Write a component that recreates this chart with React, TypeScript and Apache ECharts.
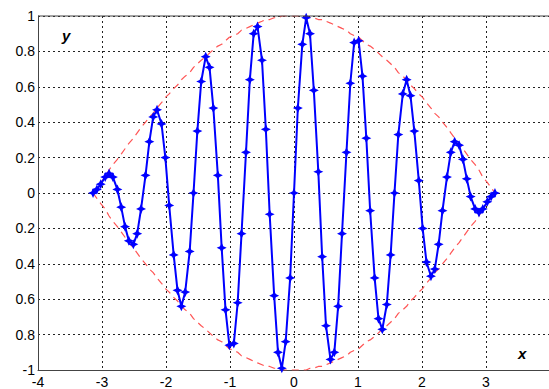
import React, { useEffect, useRef } from "react";
import * as echarts from "echarts";

// Sample positions along x (from -pi to pi)
const xs = [
  -3.14, -3.08, -3.02, -2.95, -2.89, -2.83, -2.76, -2.70, -2.64, -2.58,
  -2.51, -2.45, -2.39, -2.32, -2.26, -2.20, -2.14, -2.07, -2.01, -1.95,
  -1.88, -1.82, -1.76, -1.70, -1.63, -1.57, -1.51, -1.45, -1.38, -1.32,
  -1.26, -1.19, -1.13, -1.07, -1.01, -0.94, -0.88, -0.82, -0.75, -0.69,
  -0.63, -0.57, -0.50, -0.44, -0.38, -0.31, -0.25, -0.19, -0.13, -0.06,
  0,
  0.06, 0.13, 0.19, 0.25, 0.31, 0.38, 0.44, 0.50, 0.57, 0.63,
  0.69, 0.75, 0.82, 0.88, 0.94, 1.01, 1.07, 1.13, 1.19, 1.26,
  1.32, 1.38, 1.45, 1.51, 1.57, 1.63, 1.70, 1.76, 1.82, 1.88,
  1.95, 2.01, 2.07, 2.14, 2.20, 2.26, 2.32, 2.39, 2.45, 2.51,
  2.58, 2.64, 2.70, 2.76, 2.83, 2.89, 2.95, 3.02, 3.08, 3.14,
];

// Modulated signal values at each sample
const signal = [
  0, 0.02, 0.05, 0.09, 0.11, 0.09, 0.02, -0.08, -0.19, -0.27,
  -0.29, -0.23, -0.09, 0.10, 0.29, 0.43, 0.47, 0.39, 0.20, -0.07,
  -0.35, -0.55, -0.64, -0.56, -0.33, 0, 0.35, 0.63, 0.77, 0.71,
  0.48, 0.10, -0.31, -0.66, -0.86, -0.85, -0.62, -0.23, 0.23, 0.64,
  0.90, 0.94, 0.75, 0.36, -0.12, -0.58, -0.90, -0.99, -0.84, -0.48,
  0,
  0.48, 0.84, 0.99, 0.90, 0.58, 0.12, -0.36, -0.75, -0.94, -0.90,
  -0.64, -0.23, 0.23, 0.62, 0.85, 0.86, 0.66, 0.31, -0.10, -0.48,
  -0.71, -0.77, -0.63, -0.35, 0, 0.33, 0.56, 0.64, 0.55, 0.35,
  0.07, -0.20, -0.39, -0.47, -0.43, -0.29, -0.10, 0.09, 0.23, 0.29,
  0.27, 0.19, 0.08, -0.02, -0.09, -0.11, -0.09, -0.05, -0.02, 0,
];

// Upper envelope of the signal; the lower one is its mirror image
const envelope = [
  0, 0.03, 0.06, 0.09, 0.13, 0.16, 0.19, 0.22, 0.25, 0.28,
  0.31, 0.34, 0.37, 0.40, 0.43, 0.45, 0.48, 0.51, 0.54, 0.56,
  0.59, 0.61, 0.64, 0.66, 0.68, 0.71, 0.73, 0.75, 0.77, 0.79,
  0.81, 0.83, 0.84, 0.86, 0.88, 0.89, 0.90, 0.92, 0.93, 0.94,
  0.95, 0.96, 0.97, 0.98, 0.98, 0.99, 0.99, 1.00, 1.00, 1.00,
  1.00,
  1.00, 1.00, 1.00, 0.99, 0.99, 0.98, 0.98, 0.97, 0.96, 0.95,
  0.94, 0.93, 0.92, 0.90, 0.89, 0.88, 0.86, 0.84, 0.83, 0.81,
  0.79, 0.77, 0.75, 0.73, 0.71, 0.68, 0.66, 0.64, 0.61, 0.59,
  0.56, 0.54, 0.51, 0.48, 0.45, 0.43, 0.40, 0.37, 0.34, 0.31,
  0.28, 0.25, 0.22, 0.19, 0.16, 0.13, 0.09, 0.06, 0.03, 0,
];

const FONT = "'Liberation Sans', Arial, Helvetica, sans-serif";
const STAR =
  "path://M0,-5 L1.6,-1.6 L5,0 L1.6,1.6 L0,5 L-1.6,1.6 L-5,0 L-1.6,-1.6 Z";

export default function App() {
  const ref = useRef<HTMLDivElement>(null);

  useEffect(() => {
    if (!ref.current) return;
    const chart = echarts.init(ref.current, undefined, { renderer: "svg" });

    const sigData = xs.map((x, i) => [x, signal[i]]);
    const upData = xs.map((x, i) => [x, envelope[i]]);
    const lowData = xs.map((x, i) => [x, -envelope[i]]);

    const gridLine = {
      show: true,
      lineStyle: { color: "#222", width: 1, type: [2, 3] as any },
    };

    chart.setOption({
      animation: false,
      backgroundColor: "#fff",
      grid: { left: 38, right: 0, top: 16, bottom: 14, show: false },
      xAxis: {
        type: "value",
        min: -4,
        max: 4,
        interval: 1,
        axisLine: {
          show: true,
          onZero: false,
          lineStyle: { color: "#444", width: 1 },
        },
        axisTick: { show: false },
        splitLine: gridLine,
        axisLabel: {
          color: "#000",
          fontSize: 14,
          fontFamily: FONT,
          margin: 5,
          formatter: (v: number) => (v >= 4 ? "" : String(v)),
        },
      },
      yAxis: {
        type: "value",
        min: -1,
        max: 1,
        interval: 0.2,
        axisLine: {
          show: true,
          onZero: false,
          lineStyle: { color: "#444", width: 1 },
        },
        axisTick: { show: false },
        splitLine: gridLine,
        axisLabel: {
          color: "#000",
          fontSize: 14,
          fontFamily: FONT,
          margin: 3,
          formatter: (v: number) => {
            const r = Math.round(v * 10) / 10;
            if (r === -1) return "-1";
            return String(Math.abs(r));
          },
        },
      },
      graphic: [
        {
          type: "line",
          shape: { x1: 38, y1: 16, x2: 553, y2: 16 },
          style: { stroke: "#444", lineWidth: 1 },
          z: 10,
        },
        {
          type: "text",
          left: 62,
          top: 28,
          style: {
            text: "y",
            font: `italic bold 15px ${FONT}`,
            fill: "#000",
          },
        },
        {
          type: "text",
          left: 518,
          top: 346,
          style: {
            text: "x",
            font: `italic bold 15px ${FONT}`,
            fill: "#000",
          },
        },
      ],
      series: [
        {
          type: "line",
          data: upData,
          showSymbol: false,
          lineStyle: { color: "#ff5555", width: 1.2, type: [7, 5] },
          z: 2,
        },
        {
          type: "line",
          data: lowData,
          showSymbol: false,
          lineStyle: { color: "#ff5555", width: 1.2, type: [7, 5] },
          z: 2,
        },
        {
          type: "line",
          data: sigData,
          symbol: STAR,
          symbolSize: 10,
          itemStyle: { color: "#0000ff" },
          lineStyle: { color: "#0000ff", width: 2 },
          z: 3,
        },
      ],
    });

    return () => chart.dispose();
  }, []);

  // The plot runs a few pixels past the right edge of the visible frame.
  return (
    <div
      style={{
        position: "fixed",
        left: 0,
        top: 0,
        width: 549,
        height: 389,
        overflow: "hidden",
      }}
    >
      <div ref={ref} style={{ width: 553, height: 389 }} />
    </div>
  );
}
